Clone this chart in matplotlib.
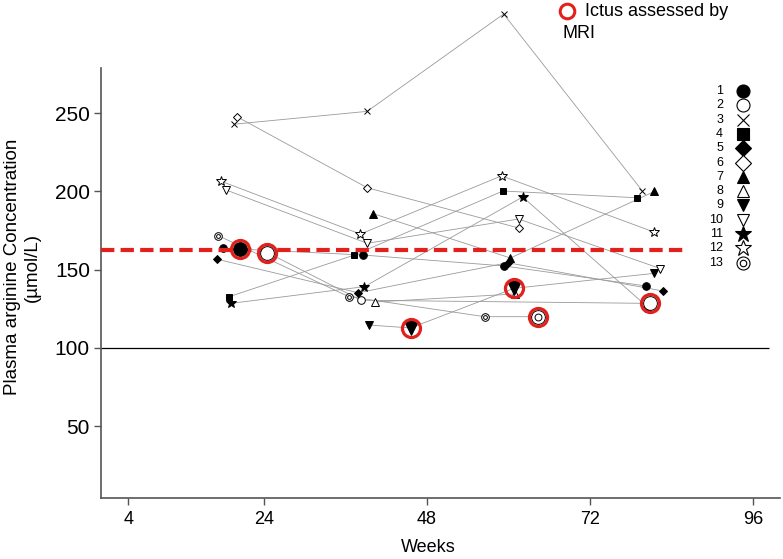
import matplotlib
matplotlib.use('Agg')
import matplotlib.pyplot as plt
import numpy as np

plt.rcParams['font.family'] = ['Liberation Sans', 'DejaVu Sans']

# visits per subject: weeks and plasma arginine (umol/L)
weeks = {
    1: [17.9, 38.6, 59.4, 80.3],
    2: [24.5, 38.3, 80.8],
    3: [19.6, 39.2, 59.3, 79.7],
    4: [18.9, 37.3, 59.2, 78.9],
    5: [17.1, 37.9, 59.9, 82.8],
    6: [20.1, 39.2, 61.5],
    7: [40.1, 60.3, 81.5],
    8: [40.4, 60.9],
    9: [39.4, 45.6, 60.8, 81.5],
    10: [18.4, 39.2, 61.5, 82.4],
    11: [19.1, 38.8, 62.1, 80.6],
    12: [17.6, 38.2, 59.0, 81.5],
    13: [17.3, 36.5, 56.5, 64.4],
}
arg = {
    1: [163.7, 159.4, 152.4, 139.6],
    2: [161.0, 130.5, 128.5],
    3: [243.0, 251.2, 313.4, 200.5],
    4: [132.8, 159.4, 200.3, 196.0],
    5: [156.7, 135.3, 154.5, 136.4],
    6: [247.6, 202.4, 176.7],
    7: [185.8, 157.5, 200.0],
    8: [129.4, 134.5],
    9: [114.7, 112.8, 138.1, 147.7],
    10: [201.0, 166.9, 182.4, 150.7],
    11: [128.5, 139.2, 196.5, 125.8],
    12: [206.7, 172.8, 210.0, 174.0],
    13: [171.7, 132.8, 120.0, 120.0],
}

# visits where ictus was assessed by MRI
ictus_subj = [1, 2, 9, 9, 13, 2]
ictus_week = [20.4, 24.5, 45.6, 60.8, 64.4, 80.8]
ictus_arg = [163.3, 161.0, 112.8, 138.1, 120.0, 128.5]

mean_arg = 162.5
ref_arg = 100

styles = {
    1: ('o', 'k', 5.5),
    2: ('o', 'w', 5.5),
    3: ('x', 'k', 5),
    4: ('s', 'k', 5),
    5: ('D', 'k', 4.5),
    6: ('D', 'w', 4.5),
    7: ('^', 'k', 5.5),
    8: ('^', 'w', 5.5),
    9: ('v', 'k', 5.5),
    10: ('v', 'w', 5.5),
    11: ('*', 'k', 7),
    12: ('*', 'w', 7),
    13: ('o', 'w', 5.5),
}


def draw_marker(x, y, s, scale=1.0, z=3, **kw):
    m, fc, ms = styles[s]
    ax.plot(x, y, linestyle='none', marker=m, mfc=fc, mec='k', mew=0.7,
            ms=ms * scale, zorder=z, clip_on=False, **kw)
    if s == 13:
        ax.plot(x, y, linestyle='none', marker='o', mfc='w', mec='k', mew=0.7,
                ms=ms * scale * 0.5, zorder=z + 0.1, clip_on=False, **kw)


W, H = 783, 559
fig = plt.figure(figsize=(W / 100, H / 100), dpi=100)
ax = fig.add_axes([101 / W, 1 - 498 / H, 679 / W, 430 / H])

for s in weeks:
    ax.plot(weeks[s], arg[s], color='#9a9a9a', lw=0.6, zorder=2, clip_on=False)
    draw_marker(weeks[s], arg[s], s)

for s, w, v in zip(ictus_subj, ictus_week, ictus_arg):
    draw_marker([w], [v], s, scale=1.8, z=5)
    ax.plot([w], [v], linestyle='none', marker='o', ms=13, mfc='none',
            mec='#e3211c', mew=2.3, zorder=6, clip_on=False)

ax.hlines(ref_arg, 0, 98.4, color='k', lw=0.9, zorder=1)
ax.plot([0, 85.7], [mean_arg, mean_arg], color='#e3211c', lw=3,
        dashes=(3.2, 1.5), zorder=4)

ax.set_xlim(0, 100)
ax.set_ylim(4.15, 278.9)
ax.set_xticks([4, 24, 48, 72, 96])
ax.set_yticks([50, 100, 150, 200, 250])
ax.tick_params(axis='x', labelsize=13, length=5, width=1, color='#555555', pad=4)
ax.tick_params(axis='y', labelsize=15, length=5, width=1, color='#555555', pad=3)
for side in ['top', 'right']:
    ax.spines[side].set_visible(False)
for side in ['left', 'bottom']:
    ax.spines[side].set_color('#555555')
    ax.spines[side].set_linewidth(1.2)

fig.text(428 / W, 1 - 547 / H, 'Weeks', ha='center', va='center', fontsize=13)
fig.text(22.5 / W, 1 - 267 / H, 'Plasma arginine Concentration\n(\u00b5mol/L)',
         rotation=90, ha='center', va='center', fontsize=13.5,
         multialignment='center', linespacing=1.25)

# subject key on the right
for i, s in enumerate(weeks):
    yy = 1 - (91 + i * 14.3) / H
    fig.text(723 / W, yy, str(s), ha='right', va='center', fontsize=9)
    m, fc, ms = styles[s]
    ax.plot([743 / W], [yy], linestyle='none', marker=m, mfc=fc, mec='k',
            mew=0.8, ms=ms * 1.7, transform=fig.transFigure, clip_on=False)
    if s == 13:
        ax.plot([743 / W], [yy], linestyle='none', marker='o', mfc='w', mec='k',
                mew=0.8, ms=ms * 0.85, transform=fig.transFigure, clip_on=False)

# ictus key at the top
ax.plot([567 / W], [1 - 11 / H], linestyle='none', marker='o', ms=10.5,
        mfc='none', mec='#e3211c', mew=2.2, transform=fig.transFigure,
        clip_on=False)
fig.text(585 / W, 1 - 11 / H, 'Ictus assessed by', ha='left', va='center', fontsize=13)
fig.text(563 / W, 1 - 34 / H, 'MRI', ha='left', va='center', fontsize=13)

fig.savefig('out.png', dpi=100)
